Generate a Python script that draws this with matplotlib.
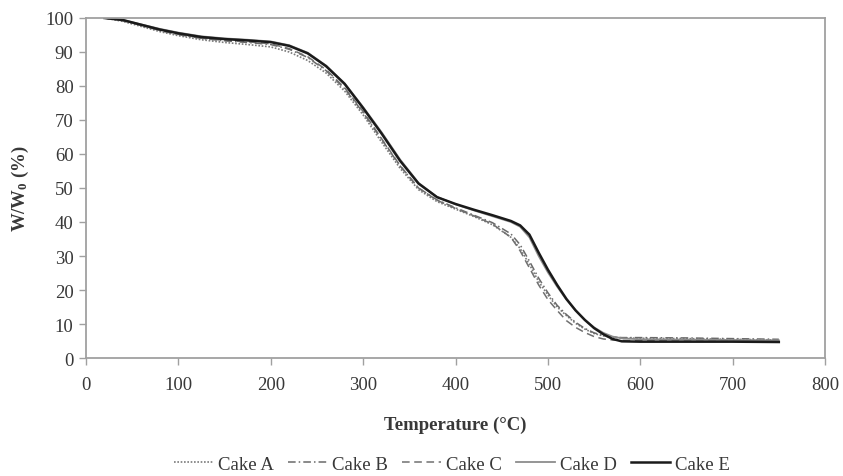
import matplotlib
matplotlib.use("Agg")
import matplotlib.pyplot as plt

temps = [20, 40, 60, 80, 100, 125, 150, 175, 200, 220, 240, 260, 280, 300, 320, 340,
         360, 380, 400, 420, 440, 460, 470, 480, 490, 500, 510, 520, 530, 540, 550,
         560, 570, 580, 600, 650, 700, 750]

cake_a = [100, 99.0, 97.5, 96.0, 94.8, 93.6, 92.8, 92.2, 91.5, 90.0, 87.5, 83.8, 78.5,
          71.5, 63.5, 55.8, 49.5, 46.0, 43.8, 41.6, 39.2, 35.5, 32.2, 27.5, 22.5, 18.5,
          15.0, 12.5, 10.2, 8.5, 7.2, 6.5, 6.1, 5.9, 5.8, 5.7, 5.5, 5.3]
cake_b = [100, 99.2, 97.8, 96.3, 95.1, 94.0, 93.3, 92.8, 92.2, 90.8, 88.4, 84.5, 79.2,
          72.2, 64.3, 56.5, 50.0, 46.5, 44.2, 42.0, 39.8, 36.5, 33.3, 28.5, 23.5, 19.2,
          15.5, 12.8, 10.5, 8.7, 7.4, 6.6, 6.2, 6.0, 6.0, 5.9, 5.7, 5.5]
cake_c = [100, 99.3, 97.9, 96.4, 95.2, 94.1, 93.4, 93.0, 92.4, 91.0, 88.6, 84.8, 79.5,
          72.5, 64.5, 56.6, 50.0, 46.4, 44.0, 41.8, 39.4, 35.5, 31.5, 26.5, 21.5, 17.2,
          14.0, 11.0, 9.0, 7.5, 6.3, 5.6, 5.3, 5.2, 5.1, 5.0, 4.9, 4.9]
cake_d = [100, 99.4, 98.1, 96.8, 95.7, 94.6, 94.0, 93.6, 93.1, 92.0, 89.8, 86.0, 80.8,
          73.8, 66.4, 58.4, 51.5, 47.4, 45.2, 43.4, 41.7, 40.0, 38.6, 35.5, 30.0, 25.2,
          21.0, 17.2, 14.0, 11.2, 9.0, 7.4, 6.3, 5.8, 5.5, 5.4, 5.3, 5.2]
cake_e = [100, 99.4, 98.0, 96.6, 95.5, 94.4, 93.8, 93.4, 92.9, 91.8, 89.6, 85.8, 80.6,
          73.5, 66.0, 58.0, 51.3, 47.3, 45.3, 43.6, 42.0, 40.3, 39.0, 36.3, 31.0, 26.0,
          21.5, 17.4, 14.0, 11.2, 8.8, 7.0, 5.6, 4.9, 4.8, 4.8, 4.8, 4.7]

labels = ["Cake A", "Cake B", "Cake C", "Cake D", "Cake E"]
x_ticks = [0, 100, 200, 300, 400, 500, 600, 700, 800]
y_ticks = [0, 10, 20, 30, 40, 50, 60, 70, 80, 90, 100]

plt.rcParams['font.family'] = ['Liberation Serif', 'DejaVu Serif']
plt.rcParams['mathtext.fontset'] = 'custom'
plt.rcParams['mathtext.bf'] = 'Liberation Serif:bold'
plt.rcParams['mathtext.rm'] = 'Liberation Serif:bold'
plt.rcParams['mathtext.default'] = 'bf'

text_color = '#383838'
axis_color = '#a0a0a0'

fig = plt.figure(figsize=(8.43, 4.77), dpi=100)
ax = fig.add_axes([86/843, 1-359/477, (825-86)/843, (359-19)/477])

ax.plot(temps, cake_a, linestyle=(0, (1, 1)), color='#7a7a7a', lw=1.2, label=labels[0])
ax.plot(temps, cake_b, linestyle=(0, (5, 2, 1, 2)), color='#6a6a6a', lw=1.1, label=labels[1])
ax.plot(temps, cake_c, linestyle=(0, (5, 3)), color='#707070', lw=1.1, label=labels[2])
ax.plot(temps, cake_d, linestyle='-', color='#8c8c8c', lw=1.3, label=labels[3])
ax.plot(temps, cake_e, linestyle='-', color='#1a1a1a', lw=1.8, label=labels[4])

ax.set_xlim(0, 800)
ax.set_ylim(0, 100)
ax.set_xticks(x_ticks)
ax.set_yticks(y_ticks)
ax.tick_params(axis='both', direction='out', length=5, width=1, color=axis_color,
               labelcolor=text_color, labelsize=13.5)
ax.tick_params(axis='x', pad=8)
ax.tick_params(axis='y', pad=4)
for s in ax.spines.values():
    s.set_color(axis_color)
    s.set_linewidth(1.3)

ax.set_xlabel("Temperature (°C)", fontsize=13.5, fontweight='bold', color=text_color, labelpad=16)
ax.set_ylabel("W/W$_0$ (%)", fontsize=13.5, fontweight='bold', color=text_color, labelpad=10)

leg = fig.legend(loc='center', bbox_to_anchor=(452/843, 1-465/477), ncol=5, frameon=False,
                 fontsize=13.5, handlelength=2.1, handletextpad=0.25, columnspacing=0.75)
for t in leg.get_texts():
    t.set_color(text_color)

fig.savefig("out.png", dpi=100)
